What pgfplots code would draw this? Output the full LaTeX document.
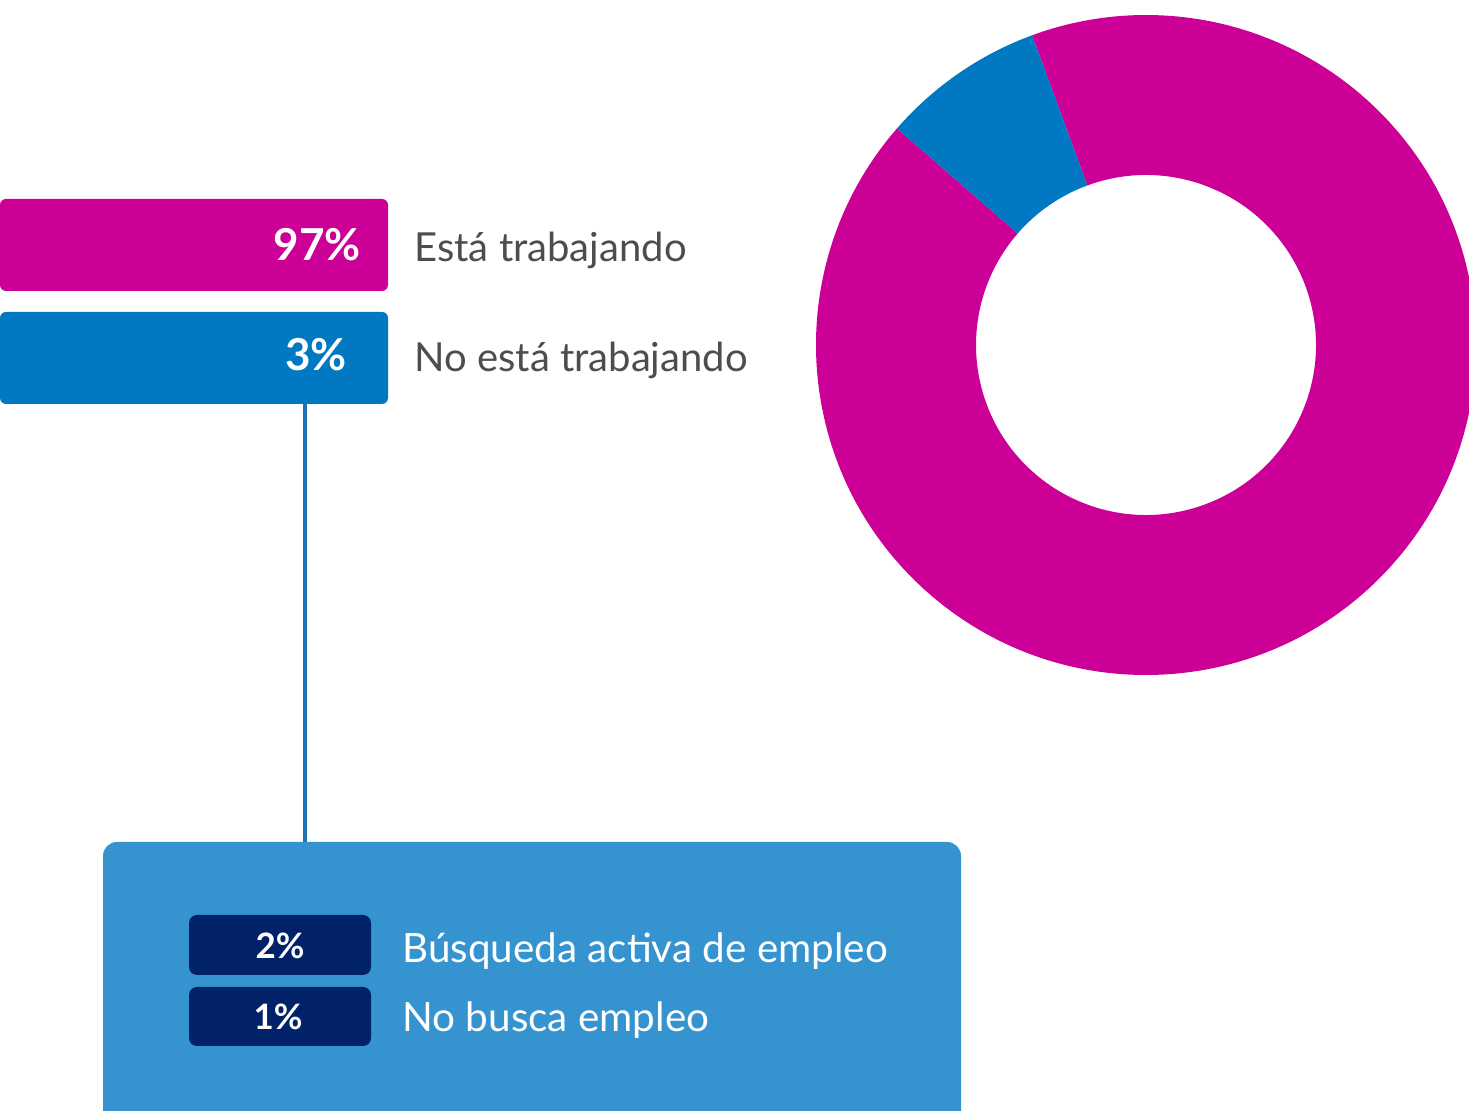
\documentclass[border=0pt]{standalone}
\usepackage{pgfplots}
\pgfplotsset{compat=1.18}
\usepackage{fontspec}
\setmainfont{Lato}
\definecolor{mag}{HTML}{CC0096}
\definecolor{blu}{HTML}{0079C2}
\definecolor{boxblue}{HTML}{3593CF}
\definecolor{navy}{HTML}{012168}
\definecolor{txt}{HTML}{4D4D4D}
\definecolor{linec}{HTML}{1F74B8}
% donut shares (as drawn)
\def\pMag{92}
\def\pBlu{8}
\def\startA{110.2}
\begin{document}
\begin{tikzpicture}
\begin{axis}[
  width=734.5pt, height=555.5pt, scale only axis,
  xmin=10, xmax=1479, ymin=0, ymax=1111, y dir=reverse,
  hide axis, clip=true,
]
% bars
\addplot[xbar, bar width=92, fill=mag, draw=none, rounded corners=3pt] coordinates {(398,245)};
\addplot[xbar, bar width=92, fill=blu, draw=none, rounded corners=3pt] coordinates {(398,358)};
\node[inner sep=0pt, anchor=base east, text=white, font=\fontsize{22}{26}\selectfont\bfseries] at (axis cs:371,261) {97\%};
\node[inner sep=0pt, anchor=base east, text=white, font=\fontsize{22}{26}\selectfont\bfseries] at (axis cs:357,371) {3\%};
\node[inner sep=0pt, anchor=base west, text=txt, font=\fontsize{20}{24}\selectfont] at (axis cs:424,262) {Está trabajando};
\node[inner sep=0pt, anchor=base west, text=txt, font=\fontsize{20}{24}\selectfont] at (axis cs:424,372) {No está trabajando};
% connector
\draw[linec, line width=2pt] (axis cs:315,404) -- (axis cs:315,843);
% box
\fill[boxblue, rounded corners=7pt] (axis cs:113,842) rectangle (axis cs:971,1140);
\fill[navy, rounded corners=4pt] (axis cs:199,915) rectangle (axis cs:381,975);
\fill[navy, rounded corners=4pt] (axis cs:199,987) rectangle (axis cs:381,1046);
\node[inner sep=0pt, anchor=base, text=white, font=\fontsize{17.5}{21}\selectfont\bfseries] at (axis cs:290,959) {2\%};
\node[inner sep=0pt, anchor=base, text=white, font=\fontsize{17.5}{21}\selectfont\bfseries] at (axis cs:288,1030) {1\%};
\node[inner sep=0pt, anchor=base west, text=white, font=\fontsize{20.2}{24}\selectfont] at (axis cs:412,963) {Búsqueda activa de empleo};
\node[inner sep=0pt, anchor=base west, text=white, font=\fontsize{20.2}{24}\selectfont] at (axis cs:412,1032) {No busca empleo};
% donut
\pgfmathsetmacro{\endB}{\startA+3.6*\pBlu}
\pgfmathsetmacro{\endM}{\endB+3.6*\pMag}
\fill[mag] (axis cs:1156,345) ++(\endB:165pt) arc[start angle=\endB, end angle=\endM, radius=165pt] -- ++(\endM:-80pt) arc[start angle=\endM, end angle=\endB, radius=85pt] -- cycle;
\fill[blu] (axis cs:1156,345) ++(\startA:165pt) arc[start angle=\startA, end angle=\endB, radius=165pt] -- ++(\endB:-80pt) arc[start angle=\endB, end angle=\startA, radius=85pt] -- cycle;
\end{axis}
\end{tikzpicture}
\end{document}
